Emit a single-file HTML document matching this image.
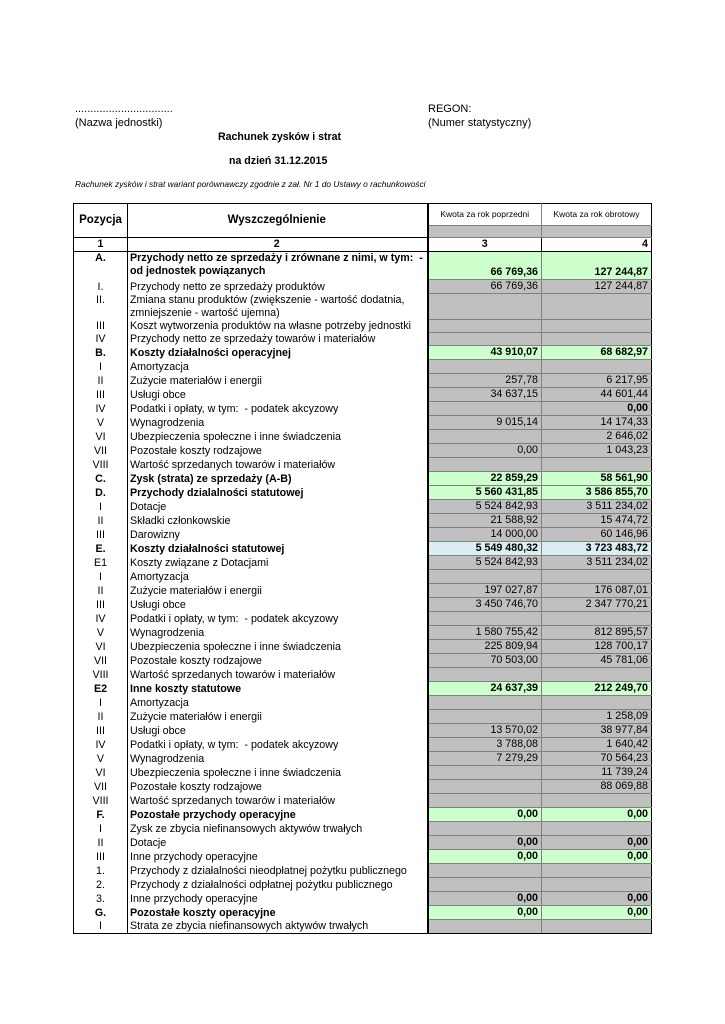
<!DOCTYPE html>
<html><head><meta charset="utf-8"><style>
body{margin:0;background:#fff;width:725px;height:1024px;position:relative;font-family:"Liberation Sans",Arial,sans-serif;color:#000;overflow:hidden}
.t{position:absolute;white-space:nowrap;font-size:11px}
table{position:absolute;left:73px;top:203px;border-collapse:collapse;table-layout:fixed;font-size:10.7px}
td{padding:0 3px;line-height:13px;overflow:hidden;white-space:nowrap;vertical-align:bottom}
td.p{text-align:center;border-left:1px solid #000;border-right:1px solid #000}
td.d{border-right:2px solid #000;padding-left:2px}
td.v{text-align:right;border:1px solid #808080}
td.v4{border-right:1px solid #000}
.g{background:#c0c0c0}.n{background:#ccffcc}.bl{background:#daeef3}
.b{font-weight:bold}
tr{height:14px}
</style></head><body>
<div class="t" style="left:75px;top:103px">................................</div>
<div class="t" style="left:75px;top:117px">(Nazwa jednostki)</div>
<div class="t" style="left:428px;top:103px">REGON:</div>
<div class="t" style="left:428px;top:117px">(Numer statystyczny)</div>
<div class="t b" style="left:218px;top:131px;font-size:10.6px">Rachunek zysków i strat</div>
<div class="t b" style="left:229px;top:155px;font-size:10.6px">na dzień 31.12.2015</div>
<div class="t" style="left:75px;top:179px;font-size:8.4px;font-style:italic">Rachunek zysków i strat wariant porównawczy zgodnie z zał. Nr 1 do Ustawy o rachunkowości</div>
<table>
<colgroup><col style="width:54px"><col style="width:300px"><col style="width:114px"><col style="width:110px"></colgroup>
<tr style="height:22px"><td class="p b" rowspan="2" style="border-top:1px solid #000;vertical-align:middle;font-size:11.5px">Pozycja</td><td class="d b" rowspan="2" style="border-top:1px solid #000;text-align:center;vertical-align:middle;font-size:11.5px">Wyszczególnienie</td><td class="v" style="border-top:1px solid #000;text-align:center;font-size:8.5px;vertical-align:middle;border-color:#000 #808080 #808080 #000">Kwota za rok poprzedni</td><td class="v v4" style="border-top:1px solid #000;text-align:center;font-size:8.5px;vertical-align:middle">Kwota za rok obrotowy</td></tr>
<tr style="height:12px"><td class="v g"></td><td class="v v4 g"></td></tr>
<tr style="height:14px"><td class="p b" style="border-top:1px solid #000;border-bottom:1px solid #000">1</td><td class="d b" style="text-align:center;border-top:1px solid #000;border-bottom:1px solid #000">2</td><td class="v b" style="text-align:center;border-color:#000">3</td><td class="v v4 b" style="border-color:#000">4</td></tr>
<tr style="height:28px"><td class="p b" style="vertical-align:top">A.</td><td class="d b" style="vertical-align:top">Przychody netto ze sprzedaży i zrównane z nimi, w tym:&nbsp; -<br>od jednostek powiązanych</td><td class="v n b">66 769,36</td><td class="v v4 n b">127 244,87</td></tr>
<tr><td class="p">I.</td><td class="d">Przychody netto ze sprzedaży produktów</td><td class="v g">66 769,36</td><td class="v v4 g">127 244,87</td></tr>
<tr style="height:26px"><td class="p" style="vertical-align:top">II.</td><td class="d" style="vertical-align:top">Zmiana stanu produktów (zwiększenie - wartość dodatnia,<br>zmniejszenie - wartość ujemna)</td><td class="v g"></td><td class="v v4 g"></td></tr>
<tr style="height:13px"><td class="p">III</td><td class="d">Koszt wytworzenia produktów na własne potrzeby jednostki</td><td class="v g"></td><td class="v v4 g"></td></tr>
<tr style="height:13px"><td class="p">IV</td><td class="d">Przychody netto ze sprzedaży towarów i materiałów</td><td class="v g"></td><td class="v v4 g"></td></tr>
<tr><td class="p b">B.</td><td class="d b">Koszty działalności operacyjnej</td><td class="v n b">43 910,07</td><td class="v v4 n b">68 682,97</td></tr>
<tr><td class="p">I</td><td class="d">Amortyzacja</td><td class="v g"></td><td class="v v4 g"></td></tr>
<tr><td class="p">II</td><td class="d">Zużycie materiałów i energii</td><td class="v g">257,78</td><td class="v v4 g">6 217,95</td></tr>
<tr><td class="p">III</td><td class="d">Usługi obce</td><td class="v g">34 637,15</td><td class="v v4 g">44 601,44</td></tr>
<tr><td class="p">IV</td><td class="d">Podatki i opłaty, w tym:&nbsp; - podatek akcyzowy</td><td class="v g"></td><td class="v v4 g b">0,00</td></tr>
<tr><td class="p">V</td><td class="d">Wynagrodzenia</td><td class="v g">9 015,14</td><td class="v v4 g">14 174,33</td></tr>
<tr><td class="p">VI</td><td class="d">Ubezpieczenia społeczne i inne świadczenia</td><td class="v g"></td><td class="v v4 g">2 646,02</td></tr>
<tr><td class="p">VII</td><td class="d">Pozostałe koszty rodzajowe</td><td class="v g">0,00</td><td class="v v4 g">1 043,23</td></tr>
<tr><td class="p">VIII</td><td class="d">Wartość sprzedanych towarów i materiałów</td><td class="v g"></td><td class="v v4 g"></td></tr>
<tr><td class="p b">C.</td><td class="d b">Zysk (strata) ze sprzedaży (A-B)</td><td class="v n b">22 859,29</td><td class="v v4 n b">58 561,90</td></tr>
<tr><td class="p b">D.</td><td class="d b">Przychody dzialalności statutowej</td><td class="v n b">5 560 431,85</td><td class="v v4 n b">3 586 855,70</td></tr>
<tr><td class="p">I</td><td class="d">Dotacje</td><td class="v g">5 524 842,93</td><td class="v v4 g">3 511 234,02</td></tr>
<tr><td class="p">II</td><td class="d">Składki członkowskie</td><td class="v g">21 588,92</td><td class="v v4 g">15 474,72</td></tr>
<tr><td class="p">III</td><td class="d">Darowizny</td><td class="v g">14 000,00</td><td class="v v4 g">60 146,96</td></tr>
<tr><td class="p b">E.</td><td class="d b">Koszty działalności statutowej</td><td class="v bl b">5 549 480,32</td><td class="v v4 bl b">3 723 483,72</td></tr>
<tr><td class="p">E1</td><td class="d">Koszty związane z Dotacjami</td><td class="v g">5 524 842,93</td><td class="v v4 g">3 511 234,02</td></tr>
<tr><td class="p">I</td><td class="d">Amortyzacja</td><td class="v g"></td><td class="v v4 g"></td></tr>
<tr><td class="p">II</td><td class="d">Zużycie materiałów i energii</td><td class="v g">197 027,87</td><td class="v v4 g">176 087,01</td></tr>
<tr><td class="p">III</td><td class="d">Usługi obce</td><td class="v g">3 450 746,70</td><td class="v v4 g">2 347 770,21</td></tr>
<tr><td class="p">IV</td><td class="d">Podatki i opłaty, w tym:&nbsp; - podatek akcyzowy</td><td class="v g"></td><td class="v v4 g"></td></tr>
<tr><td class="p">V</td><td class="d">Wynagrodzenia</td><td class="v g">1 580 755,42</td><td class="v v4 g">812 895,57</td></tr>
<tr><td class="p">VI</td><td class="d">Ubezpieczenia społeczne i inne świadczenia</td><td class="v g">225 809,94</td><td class="v v4 g">128 700,17</td></tr>
<tr><td class="p">VII</td><td class="d">Pozostałe koszty rodzajowe</td><td class="v g">70 503,00</td><td class="v v4 g">45 781,06</td></tr>
<tr><td class="p">VIII</td><td class="d">Wartość sprzedanych towarów i materiałów</td><td class="v g"></td><td class="v v4 g"></td></tr>
<tr><td class="p b">E2</td><td class="d b">Inne koszty statutowe</td><td class="v n b">24 637,39</td><td class="v v4 n b">212 249,70</td></tr>
<tr><td class="p">I</td><td class="d">Amortyzacja</td><td class="v g"></td><td class="v v4 g"></td></tr>
<tr><td class="p">II</td><td class="d">Zużycie materiałów i energii</td><td class="v g"></td><td class="v v4 g">1 258,09</td></tr>
<tr><td class="p">III</td><td class="d">Usługi obce</td><td class="v g">13 570,02</td><td class="v v4 g">38 977,84</td></tr>
<tr><td class="p">IV</td><td class="d">Podatki i opłaty, w tym:&nbsp; - podatek akcyzowy</td><td class="v g">3 788,08</td><td class="v v4 g">1 640,42</td></tr>
<tr><td class="p">V</td><td class="d">Wynagrodzenia</td><td class="v g">7 279,29</td><td class="v v4 g">70 564,23</td></tr>
<tr><td class="p">VI</td><td class="d">Ubezpieczenia społeczne i inne świadczenia</td><td class="v g"></td><td class="v v4 g">11 739,24</td></tr>
<tr><td class="p">VII</td><td class="d">Pozostałe koszty rodzajowe</td><td class="v g"></td><td class="v v4 g">88 069,88</td></tr>
<tr><td class="p">VIII</td><td class="d">Wartość sprzedanych towarów i materiałów</td><td class="v g"></td><td class="v v4 g"></td></tr>
<tr><td class="p b">F.</td><td class="d b">Pozostałe przychody operacyjne</td><td class="v n b">0,00</td><td class="v v4 n b">0,00</td></tr>
<tr><td class="p">I</td><td class="d">Zysk ze zbycia niefinansowych aktywów trwałych</td><td class="v g"></td><td class="v v4 g"></td></tr>
<tr><td class="p">II</td><td class="d">Dotacje</td><td class="v g b">0,00</td><td class="v v4 g b">0,00</td></tr>
<tr><td class="p">III</td><td class="d">Inne przychody operacyjne</td><td class="v n b">0,00</td><td class="v v4 n b">0,00</td></tr>
<tr><td class="p">1.</td><td class="d">Przychody z działalności nieodpłatnej pożytku publicznego</td><td class="v g"></td><td class="v v4 g"></td></tr>
<tr><td class="p">2.</td><td class="d">Przychody z działalności odpłatnej pożytku publicznego</td><td class="v g"></td><td class="v v4 g"></td></tr>
<tr><td class="p">3.</td><td class="d">Inne przychody operacyjne</td><td class="v g b">0,00</td><td class="v v4 g b">0,00</td></tr>
<tr><td class="p b">G.</td><td class="d b">Pozostałe koszty operacyjne</td><td class="v n b">0,00</td><td class="v v4 n b">0,00</td></tr>
<tr><td class="p" style="border-bottom:1px solid #000">I</td><td class="d" style="border-bottom:1px solid #000">Strata ze zbycia niefinansowych aktywów trwałych</td><td class="v g" style="border-bottom:1px solid #000"></td><td class="v v4 g" style="border-bottom:1px solid #000"></td></tr>
</table>
</body></html>
